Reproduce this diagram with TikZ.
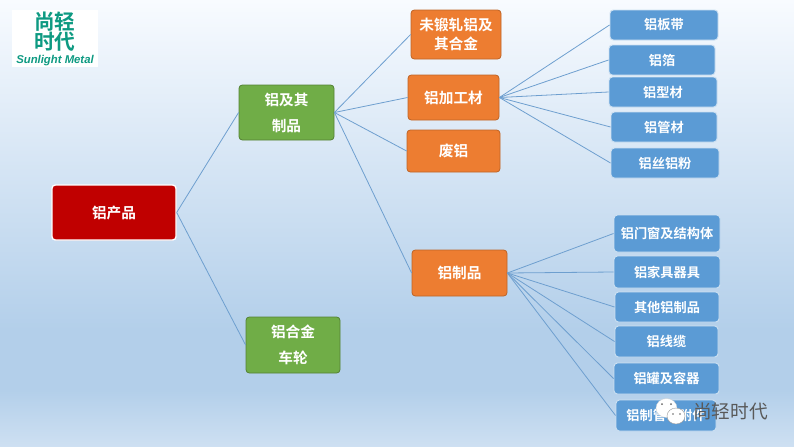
\documentclass[tikz,border=0pt]{standalone}
\usepackage{fontspec}
\setmainfont{Noto Sans CJK SC}[BoldFont={Noto Sans CJK SC Bold}]
\newfontfamily\lat{Liberation Sans}[BoldItalicFont={Liberation Sans Bold Italic}]
\definecolor{bgtop}{HTML}{F8FBFF}
\definecolor{bgmid}{HTML}{B3CFEA}
\definecolor{bgbot}{HTML}{CEE0F2}
\definecolor{redb}{HTML}{C00000}
\definecolor{greenb}{HTML}{70AD47}
\definecolor{oranb}{HTML}{ED7D31}
\definecolor{blueb}{HTML}{5B9BD5}
\definecolor{linkc}{HTML}{6E9FCF}
\definecolor{teal}{HTML}{0E9A82}
\tikzset{
  x=0.75pt,y=-0.75pt,
  boxbase/.style={rounded corners=2.5pt,inner sep=0pt,align=center,text=white,font=\bfseries\fontsize{11pt}{14pt}\selectfont},
  redbox/.style={boxbase,fill=redb,draw=white,line width=1pt},
  greenbox/.style={boxbase,fill=greenb,draw=greenb!75!black,line width=0.6pt},
  oranbox/.style={boxbase,fill=oranb,draw=oranb!80!black,line width=0.6pt},
  bluebox/.style={boxbase,fill=blueb,draw=white!70!blueb,line width=0.7pt,font=\bfseries\fontsize{9.9pt}{12pt}\selectfont},
  link/.style={draw=linkc,line width=0.6pt},
  logochar/.style={inner sep=0pt,text=teal,font=\bfseries\fontsize{15.5pt}{15.5pt}\selectfont},
  wmtext/.style={inner sep=0pt,font=\fontsize{14pt}{14pt}\selectfont,anchor=west},
}
% #1 style, #2 name, #3 x0, #4 y0, #5 x1, #6 y1, #7 text
\newcommand{\bx}[7]{%
  \pgfmathsetmacro{\cxv}{(#3+#5)/2}\pgfmathsetmacro{\cyv}{(#4+#6)/2}%
  \pgfmathsetmacro{\wv}{(#5-#3)*0.75}\pgfmathsetmacro{\hv}{(#6-#4)*0.75}%
  \node[#1,minimum width=\wv pt,minimum height=\hv pt] (#2) at (\cxv,\cyv) {#7};}
\begin{document}
\begin{tikzpicture}
\useasboundingbox (0,0) rectangle (794,447);
\shade[top color=bgtop,bottom color=bgmid] (0,0) rectangle (794,330);
\fill[bgmid] (0,329.5) rectangle (794,390.5);
\shade[top color=bgmid,bottom color=bgbot] (0,390) rectangle (794,447);
% logo
\fill[white] (12,10) rectangle (98,67);
\node[logochar] (logotop) at (55,22) {尚轻};
\node[logochar] (logomid) at (55,42) {时代};
\node[inner sep=0pt,text=teal,font=\lat\bfseries\itshape\fontsize{8.5pt}{9pt}\selectfont] (logotxt) at (55,60.5) {Sunlight Metal};
% boxes
\bx{redbox}{root}{52}{185}{176}{240}{铝产品}
\bx{greenbox}{g1}{239}{85}{334}{140}{铝及其\\[5.5pt]制品}
\bx{greenbox}{g2}{246}{317}{340}{373}{铝合金\\[5.5pt]车轮}
\bx{oranbox}{o1}{411}{10}{501}{59}{未锻轧铝及\\其合金}
\bx{oranbox}{o2}{408}{75}{499}{120}{铝加工材}
\bx{oranbox}{o3}{407}{130}{500}{172}{废铝}
\bx{oranbox}{o4}{412}{250}{507}{296}{铝制品}
\bx{bluebox}{a1}{610}{10}{718}{40}{铝板带}
\bx{bluebox}{a2}{609}{45}{715}{75}{铝箔}
\bx{bluebox}{a3}{609}{77}{717}{107}{铝型材}
\bx{bluebox}{a4}{611}{112}{717}{142}{铝管材}
\bx{bluebox}{a5}{611}{148}{719}{178}{铝丝铝粉}
\bx{bluebox}{b1}{614}{215}{720}{252}{铝门窗及结构体}
\bx{bluebox}{b2}{614}{256}{720}{288}{铝家具器具}
\bx{bluebox}{b3}{615}{292}{719}{322}{其他铝制品}
\bx{bluebox}{b4}{615}{326}{718}{357}{铝线缆}
\bx{bluebox}{b5}{614}{363}{719}{394}{铝罐及容器}
\bx{bluebox}{b6}{616}{400}{716}{431}{铝制管子附件}
% connectors
\foreach \t in {g1,g2} \draw[link] (root.east) -- (\t.west);
\foreach \t in {o1,o2,o3,o4} \draw[link] (g1.east) -- (\t.west);
\foreach \t in {a1,a2,a3,a4,a5} \draw[link] (o2.east) -- (\t.west);
\foreach \t in {b1,b2,b3,b4,b5,b6} \draw[link] (o4.east) -- (\t.west);
% watermark
\fill[white,draw=black!20,line width=0.2pt] (666.5,408) ellipse (10.5 and 9.5);
\fill[white,draw=black!40,line width=0.3pt] (676,416) ellipse (9 and 8);
\fill[black!60] (673,414) circle (0.9) (680,414) circle (0.9) (662,404) circle (1) (671,404) circle (1);
\node[wmtext,text=black!65] (wm) at (693,411.5) {尚轻时代};
\end{tikzpicture}
\end{document}
